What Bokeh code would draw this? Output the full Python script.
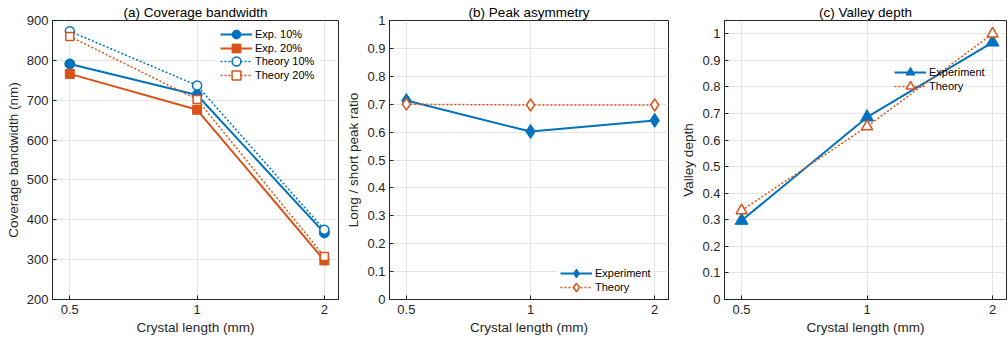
from bokeh.plotting import figure
from bokeh.layouts import row
from bokeh.models import FixedTicker, Legend, LegendItem, Range1d, BoxAnnotation
from bokeh.embed import file_html
from bokeh.resources import INLINE

# ---------------- data ----------------
crystal_len = [0.5, 1, 2]
x_ticks = [0.5, 1, 2]

bw_exp10 = [791, 713, 367]
bw_exp20 = [766, 676, 298]
bw_th10 = [873, 737, 375]
bw_th20 = [860, 702, 308]
bw_ticks = [200, 300, 400, 500, 600, 700, 800, 900]

asym_exp = [0.713, 0.602, 0.642]
asym_th = [0.700, 0.697, 0.697]
asym_ticks = [0, 0.1, 0.2, 0.3, 0.4, 0.5, 0.6, 0.7, 0.8, 0.9, 1]

valley_exp = [0.297, 0.686, 0.968]
valley_th = [0.335, 0.651, 1.0]
valley_ticks = [0, 0.1, 0.2, 0.3, 0.4, 0.5, 0.6, 0.7, 0.8, 0.9, 1]

BLUE = "#0072BD"
ORANGE = "#D95319"
TXT = "#262626"
FONT = "Liberation Sans"
H = 339
TOP = 20
BOTTOM = 40
GH = 22  # legend glyph box height


def fmt(v):
    return f"{v:g}"


def make_fig(title, width, left, right, ylab, yr, yticks):
    p = figure(width=width, height=H, x_axis_type="log",
               x_range=Range1d(0.455, 2.16), y_range=Range1d(*yr),
               output_backend="svg", toolbar_location=None,
               min_border_left=left, min_border_right=right,
               min_border_top=TOP, min_border_bottom=BOTTOM)
    p.title.text = title
    p.title.align = "center"
    p.title.text_font = FONT
    p.title.text_font_size = "13.5px"
    p.title.text_font_style = "normal"
    p.title.text_color = "#000000"
    p.title.standoff = 2
    p.title.offset = 0
    p.outline_line_color = TXT
    p.outline_line_width = 1
    p.outline_line_alpha = 1
    p.background_fill_color = "white"
    p.border_fill_color = "white"
    p.xaxis.ticker = FixedTicker(ticks=x_ticks, minor_ticks=[])
    p.xaxis.major_label_overrides = {t: fmt(t) for t in x_ticks}
    p.yaxis.ticker = FixedTicker(ticks=yticks, minor_ticks=[])
    p.yaxis.major_label_overrides = {t: fmt(t) for t in yticks}
    p.xaxis.axis_label = "Crystal length (mm)"
    p.yaxis.axis_label = ylab
    for ax in (p.xaxis, p.yaxis):
        ax.axis_line_color = TXT
        ax.major_tick_in = 4
        ax.major_tick_out = 0
        ax.major_tick_line_color = TXT
        ax.minor_tick_line_color = None
        ax.major_label_text_font = FONT
        ax.major_label_text_font_size = "13px"
        ax.major_label_text_color = TXT
        ax.axis_label_text_font = FONT
        ax.axis_label_text_font_size = "13.5px"
        ax.axis_label_text_font_style = "normal"
        ax.axis_label_text_color = TXT
        ax.axis_label_standoff = 3
    p.xaxis.major_label_standoff = 5
    p.yaxis.major_label_standoff = 4
    p.grid.grid_line_color = "#e4e4e4"
    return p


def add_legend_rows(p, entries, x0, y_bottoms):
    # one single-row legend per entry so that the markers keep a readable size
    for (label, rends), yb in zip(entries, y_bottoms):
        leg = Legend(items=[LegendItem(label=label, renderers=rends)],
                     location=(x0, yb))
        leg.border_line_color = None
        leg.background_fill_alpha = 0
        leg.label_text_font = FONT
        leg.label_text_font_size = "11px"
        leg.label_text_color = "#000000"
        leg.glyph_width = 32
        leg.glyph_height = GH
        leg.label_height = GH
        leg.label_standoff = 3
        leg.spacing = 0
        leg.padding = 0
        leg.margin = 0
        p.add_layout(leg)


def white_box(p, l, r, b, t):
    p.add_layout(BoxAnnotation(left=l, right=r, bottom=b, top=t,
                               left_units="screen", right_units="screen",
                               bottom_units="screen", top_units="screen",
                               fill_color="white", fill_alpha=1,
                               line_color=None))


# ---------- (a) ----------
pa = make_fig("(a) Coverage bandwidth", 343, 52, 5, "Coverage bandwidth (nm)",
              (200, 900), bw_ticks)
la1 = pa.line(crystal_len, bw_exp10, line_color=BLUE, line_width=2)
sa1 = pa.scatter(crystal_len, bw_exp10, marker="circle", size=10,
                 fill_color=BLUE, line_color=BLUE)
la2 = pa.line(crystal_len, bw_exp20, line_color=ORANGE, line_width=2)
sa2 = pa.scatter(crystal_len, bw_exp20, marker="square", size=9,
                 fill_color=ORANGE, line_color=ORANGE)
la3 = pa.line(crystal_len, bw_th10, line_color=BLUE, line_width=1.5, line_dash="2 2")
sa3 = pa.scatter(crystal_len, bw_th10, marker="circle", size=9,
                 fill_color="white", line_color=BLUE, line_width=1.5)
la4 = pa.line(crystal_len, bw_th20, line_color=ORANGE, line_width=1.5, line_dash="2 2")
sa4 = pa.scatter(crystal_len, bw_th20, marker="square", size=8,
                 fill_color="white", line_color=ORANGE, line_width=1.5)
white_box(pa, 164, 268, 216, 273)
add_legend_rows(pa, [("Exp. 10%", [la1, sa1]), ("Exp. 20%", [la2, sa2]),
                     ("Theory 10%", [la3, sa3]), ("Theory 20%", [la4, sa4])],
                168, [254, 240, 227, 213])

# ---------- (b) ----------
pb = make_fig("(b) Peak asymmetry", 330, 44, 5, "Long / short peak ratio",
              (0, 1), asym_ticks)
lb1 = pb.line(crystal_len, asym_exp, line_color=BLUE, line_width=2)
sb1 = pb.scatter(crystal_len, asym_exp, marker="diamond", size=14,
                 fill_color=BLUE, line_color=BLUE)
lb2 = pb.line(crystal_len, asym_th, line_color=ORANGE, line_width=1.5, line_dash="2 2")
sb2 = pb.scatter(crystal_len, asym_th, marker="diamond", size=12,
                 fill_color="white", line_color=ORANGE, line_width=1.5)
white_box(pb, 168, 263, 4, 34)
add_legend_rows(pb, [("Experiment", [lb1, sb1]), ("Theory", [lb2, sb2])],
                171, [15, 1])

# ---------- (c) ----------
pc = make_fig("(c) Valley depth", 335, 51, 2, "Valley depth",
              (0, 1.05), valley_ticks)
lc1 = pc.line(crystal_len, valley_exp, line_color=BLUE, line_width=2)
sc1 = pc.scatter(crystal_len, valley_exp, marker="triangle", size=13,
                 fill_color=BLUE, line_color=BLUE)
lc2 = pc.line(crystal_len, valley_th, line_color=ORANGE, line_width=1.5, line_dash="2 2")
sc2 = pc.scatter(crystal_len, valley_th, marker="triangle", size=11,
                 fill_color="white", line_color=ORANGE, line_width=1.5)
add_legend_rows(pc, [("Experiment", [lc1, sc1]), ("Theory", [lc2, sc2])],
                170, [216, 202])

layout = row(pa, pb, pc)
open("out.html", "w").write(file_html(layout, INLINE))
